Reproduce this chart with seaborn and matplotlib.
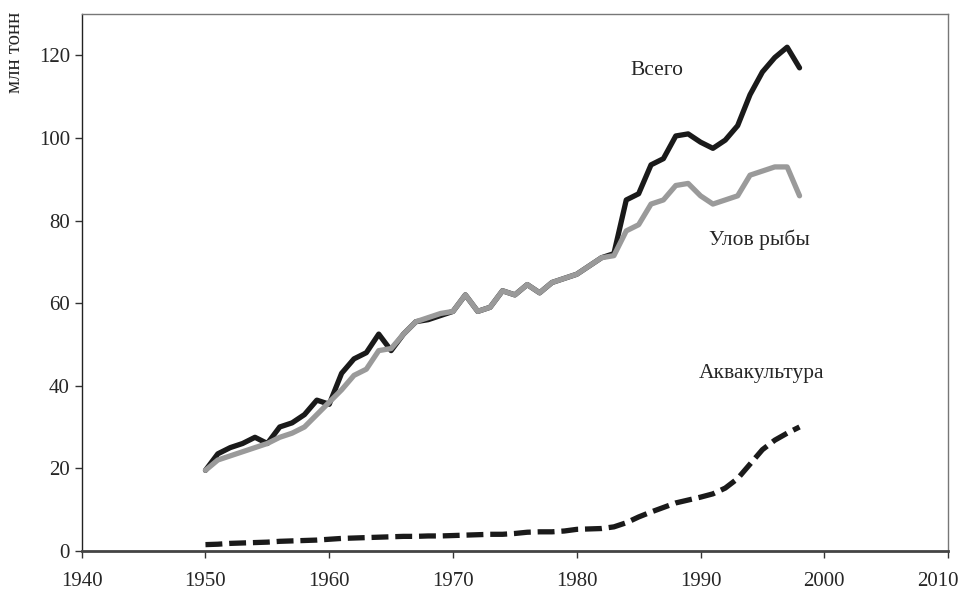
import numpy as np
import pandas as pd
import seaborn as sns
import matplotlib.pyplot as plt
import matplotlib.transforms as mtransforms

# World fish production, million tonnes
years = list(range(1950, 1999))

total = [19.5, 23.5, 25, 26, 27.5, 26, 30, 31, 33, 36.5,
         35.5, 43, 46.5, 48, 52.5, 48.5, 52.5, 55.5, 56, 57,
         58, 62, 58, 59, 63, 62, 64.5, 62.5, 65, 66,
         67, 69, 71, 72, 85, 86.5, 93.5, 95, 100.5, 101,
         99, 97.5, 99.5, 103, 110.5, 116, 119.5, 122, 117]

capture = [19.5, 22, 23, 24, 25, 26, 27.5, 28.5, 30, 33,
           36, 39, 42.5, 44, 48.5, 49, 52.5, 55.5, 56.5, 57.5,
           58, 62, 58, 59, 63, 62, 64.5, 62.5, 65, 66,
           67, 69, 71, 71.5, 77.5, 79, 84, 85, 88.5, 89,
           86, 84, 85, 86, 91, 92, 93, 93, 86]

aquaculture = [1.5, 1.6, 1.8, 1.9, 2.0, 2.1, 2.3, 2.4, 2.5, 2.6,
               2.8, 3.0, 3.1, 3.2, 3.3, 3.4, 3.5, 3.5, 3.6, 3.6,
               3.7, 3.8, 3.9, 4.0, 4.0, 4.2, 4.5, 4.6, 4.6, 4.8,
               5.2, 5.3, 5.4, 5.8, 6.8, 8.2, 9.4, 10.5, 11.6, 12.3,
               13.0, 13.8, 15.2, 17.5, 21.0, 24.5, 26.8, 28.5, 30.0]

df = pd.DataFrame({'year': years, 'total': total,
                   'capture': capture, 'aqua': aquaculture})

sns.set_style('white')
plt.rcParams['font.family'] = ['Liberation Serif', 'DejaVu Serif']

fig = plt.figure(figsize=(9.68, 5.91), dpi=100)
ax = fig.add_axes([0.0844, 0.068, 0.895, 0.908])

sns.lineplot(data=df, x='year', y='total', ax=ax, color='#1a1a1a', lw=3.8)
sns.lineplot(data=df, x='year', y='capture', ax=ax, color='#9a9a9a', lw=3.8)
sns.lineplot(data=df, x='year', y='aqua', ax=ax, color='#1a1a1a', lw=3.8,
             dashes=False, linestyle=(0, (3.2, 1.3)))

ax.set_xlim(1940, 2010)
ax.set_ylim(0, 130)
ax.set_xticks(range(1940, 2011, 10))
ax.set_yticks(range(0, 121, 20))
ax.tick_params(axis='both', labelsize=15, direction='out', length=5,
               width=1, color='#333333', bottom=True, left=True)
ax.tick_params(axis='x', pad=10)
ax.set_xlabel('')
ax.set_ylabel('')

# last x label sits a little inside, as in the original
last = ax.get_xticklabels()[-1]
last.set_transform(last.get_transform() +
                   mtransforms.ScaledTranslation(-7 / 72, 0, fig.dpi_scale_trans))

for s in ['top', 'right']:
    ax.spines[s].set_color('#777777')
    ax.spines[s].set_linewidth(1)
ax.spines['left'].set_color('#222222')
ax.spines['left'].set_linewidth(1)
ax.spines['bottom'].set_color('#444444')
ax.spines['bottom'].set_linewidth(2)

ax.text(1986.5, 116.3, 'Всего', fontsize=15.5, ha='center', va='center')
ax.text(1994.8, 75.3, 'Улов рыбы', fontsize=15.5, ha='center', va='center')
ax.text(1994.9, 43.0, 'Аквакультура', fontsize=15.5, ha='center', va='center')

fig.text(0.016, 0.912, 'млн тонн', fontsize=15, rotation=90,
         ha='center', va='center')

plt.savefig('out.png', dpi=100)
